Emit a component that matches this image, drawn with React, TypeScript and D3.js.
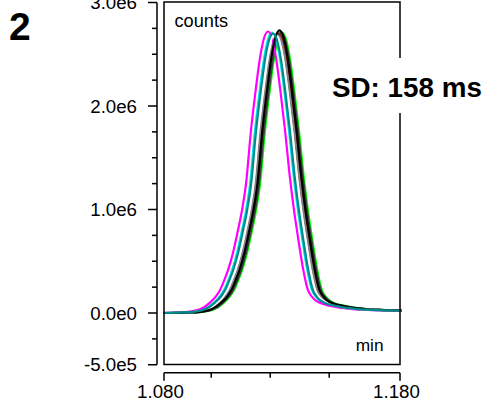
import React from "react";
import * as d3 from "d3";

// Peak profile (time relative to apex in min, relative intensity)
const profileOffsets = [
  -0.0466, -0.0381, -0.0331, -0.0288, -0.0246, -0.022, -0.0203, -0.0186, -0.0169, -0.0148,
  -0.0127, -0.011, -0.0093, -0.0072, -0.0051, -0.0034, -0.0017, 0, 0.0017, 0.0034, 0.0051,
  0.0072, 0.0093, 0.011, 0.0127, 0.0148, 0.0169, 0.0186, 0.0199, 0.022, 0.025, 0.0297,
  0.036, 0.0424, 0.0508, 0.0593,
];
const profileCounts = [
  0.0, 0.002, 0.005, 0.013, 0.037, 0.06, 0.082, 0.115, 0.153, 0.215, 0.295, 0.366, 0.46,
  0.65, 0.8, 0.906, 0.976, 1.0, 0.976, 0.906, 0.8, 0.65, 0.48, 0.366, 0.27, 0.16, 0.082,
  0.058, 0.046, 0.036, 0.028, 0.02, 0.014, 0.011, 0.009, 0.008,
];

// Replicate runs: apex retention time (min), apex height (counts), colour
const runApex = [1.13, 1.12852, 1.12809, 1.12958, 1.12576, 1.12407, 1.12703, 1.12894, 1.12619];
const runHeight = [2.71e6, 2.7e6, 2.69e6, 2.71e6, 2.71e6, 2.72e6, 2.7e6, 2.73e6, 2.7e6];
const runColor = ["#00ff00", "#8b0000", "#808080", "#404040", "#00e8f0", "#ff00ff", "#ffffff", "#000000", "#008b8b"];

const yTickValues = [-5e5, 0, 1e6, 2e6, 3e6];
const yTickLabels = ["-5.0e5", "0.0e0", "1.0e6", "2.0e6", "3.0e6"];
const yMinorTicks = [-2.5e5, 2.5e5, 5e5, 7.5e5, 1.25e6, 1.5e6, 1.75e6, 2.25e6, 2.5e6, 2.75e6];
const xTickValues = [1.08, 1.18];
const xTickLabels = ["1.080", "1.180"];
const xMinorTicks = [1.1, 1.125, 1.15];

export default function App() {
  const W = 485, H = 402;
  const x = d3.scaleLinear().domain([1.08, 1.18]).range([164, 400]);
  const y = d3.scaleLinear().domain([-5e5, 3e6]).range([364.75, 2.5]);
  const line = d3
    .line<[number, number]>()
    .x((d) => x(d[0]))
    .y((d) => y(d[1]))
    .curve(d3.curveMonotoneX);
  const font = "'Liberation Sans', Arial, Helvetica, sans-serif";
  const axisX = 157;
  const axisY = 372.7;
  return (
    <svg
      width={W}
      height={H}
      style={{ position: "absolute", left: 0, top: 0, background: "#fff" }}
      fontFamily={font}
    >
      <defs>
        <clipPath id="plotclip">
          <rect x={163} y={0} width={239} height={366} />
        </clipPath>
      </defs>
      <rect x={0} y={0} width={W} height={H} fill="#fff" />
      {/* curves */}
      <g clipPath="url(#plotclip)">
        {runApex.map((apex, i) => {
          const pts: [number, number][] = profileOffsets.map((o, j) => [apex + o, profileCounts[j] * runHeight[i]]);
          return <path key={i} d={line(pts) || ""} fill="none" stroke={runColor[i]} strokeWidth={2.2} />;
        })}
      </g>
      {/* frame */}
      <rect x={164} y={2} width={236} height={362.5} fill="none" stroke="#000" strokeWidth={1.5} />
      {/* y axis */}
      <line x1={axisX} x2={axisX} y1={y(3e6)} y2={y(-5e5)} stroke="#000" strokeWidth={1.5} />
      {yTickValues.map((v, i) => (
        <g key={"yt" + i}>
          <line x1={axisX - 9} x2={axisX} y1={y(v)} y2={y(v)} stroke="#000" strokeWidth={1.5} />
          <text x={137} y={y(v)} dy="0.35em" textAnchor="end" fontSize={18.7} fill="#000">
            {yTickLabels[i]}
          </text>
        </g>
      ))}
      {yMinorTicks.map((v, i) => (
        <line key={"ym" + i} x1={axisX - 5} x2={axisX} y1={y(v)} y2={y(v)} stroke="#000" strokeWidth={1.5} />
      ))}
      {/* x axis */}
      <line x1={x(1.08)} x2={x(1.18)} y1={axisY} y2={axisY} stroke="#000" strokeWidth={1.5} />
      {xTickValues.map((v, i) => (
        <g key={"xt" + i}>
          <line x1={x(v)} x2={x(v)} y1={axisY} y2={axisY + 8} stroke="#000" strokeWidth={1.5} />
          <text x={x(v) - 3.5} y={398} textAnchor="middle" fontSize={18.7} fill="#000">
            {xTickLabels[i]}
          </text>
        </g>
      ))}
      {xMinorTicks.map((v, i) => (
        <line key={"xm" + i} x1={x(v)} x2={x(v)} y1={axisY} y2={axisY + 5} stroke="#000" strokeWidth={1.5} />
      ))}
      {/* labels */}
      <text x={174.5} y={26.7} fontSize={18.2} fill="#000">counts</text>
      <text x={383.5} y={351} fontSize={17.3} textAnchor="end" fill="#000">min</text>
      <rect x={328} y={58} width={157} height={55} fill="#fff" />
      <text x={332} y={96.7} fontSize={27.8} fontWeight="bold" fill="#000">SD: 158 ms</text>
      <text x={9} y={40} fontSize={39} fontWeight="bold" fill="#000">2</text>
    </svg>
  );
}
